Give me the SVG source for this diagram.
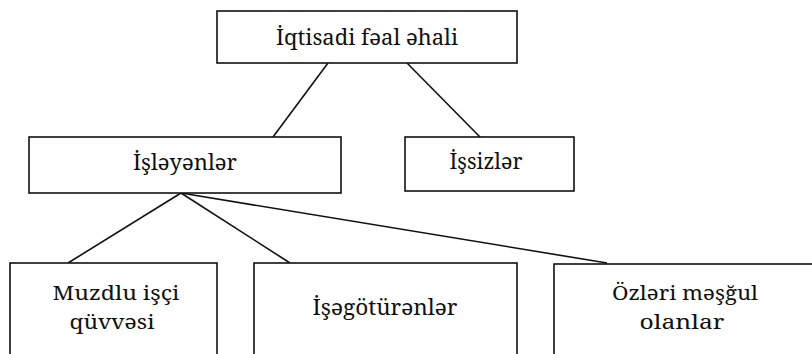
<svg xmlns="http://www.w3.org/2000/svg" width="812" height="354" viewBox="0 0 812 354">
<style>
.box{fill:#fff;stroke:#111;stroke-width:1.6}
.t{fill:#111;text-anchor:middle}
.c{stroke:#111;stroke-width:1.6;fill:none}
</style>
<rect width="812" height="354" fill="#fff"/>
<g id="connectors">
<line class="c" x1="328" y1="63" x2="273" y2="137"/>
<line class="c" x1="407" y1="63" x2="480" y2="137"/>
<line class="c" x1="181" y1="193" x2="68" y2="263"/>
<line class="c" x1="181" y1="193" x2="290" y2="263"/>
<line class="c" x1="181" y1="193" x2="607" y2="263"/>
</g>
<g font-family="Noto Serif, DejaVu Serif, serif" font-size="21">
<g id="n-iqtisadi">
<rect class="box" x="217" y="11" width="300" height="52"/>
<text class="t" x="367" y="45" textLength="182" lengthAdjust="spacingAndGlyphs">İqtisadi fəal əhali</text>
</g>
<g id="n-isleyenler">
<rect class="box" x="29" y="137" width="312" height="56"/>
<text class="t" x="185" y="170" textLength="104" lengthAdjust="spacingAndGlyphs">İşləyənlər</text>
</g>
<g id="n-issizler">
<rect class="box" x="405" y="137" width="169" height="54"/>
<text class="t" x="486" y="169" textLength="73" lengthAdjust="spacingAndGlyphs">İşsizlər</text>
</g>
<g id="n-muzdlu" font-size="20">
<rect class="box" x="10" y="263" width="207" height="110"/>
<text class="t" x="116" y="300" textLength="127" lengthAdjust="spacingAndGlyphs">Muzdlu işçi</text>
<text class="t" x="112" y="329" textLength="85" lengthAdjust="spacingAndGlyphs">qüvvəsi</text>
</g>
<g id="n-isegoturenler" font-size="22">
<rect class="box" x="254" y="263" width="263" height="110"/>
<text class="t" x="385" y="315" textLength="145" lengthAdjust="spacingAndGlyphs">İşəgötürənlər</text>
</g>
<g id="n-ozleri" font-size="20">
<rect class="box" x="554" y="264" width="270" height="110"/>
<text class="t" x="685" y="300" textLength="146" lengthAdjust="spacingAndGlyphs">Özləri məşğul</text>
<text class="t" x="682" y="329" textLength="85" lengthAdjust="spacingAndGlyphs">olanlar</text>
</g>
</g>
</svg>
